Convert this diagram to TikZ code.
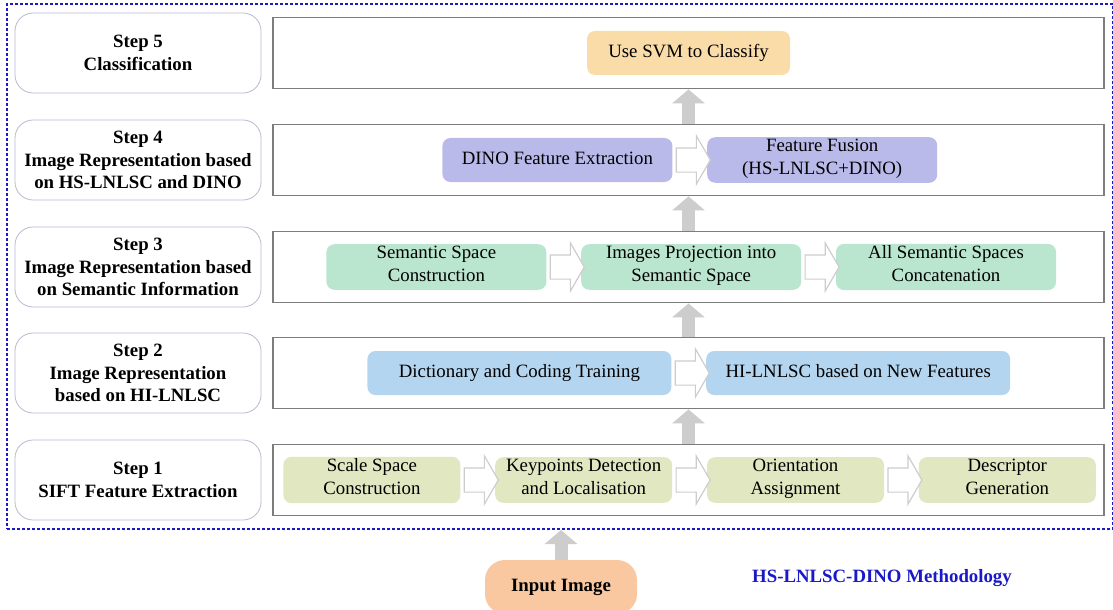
\documentclass[tikz,border=0pt]{standalone}
\usepackage{fontspec}
\setmainfont{Liberation Serif}
\usetikzlibrary{arrows.meta,positioning,shapes.arrows}
\definecolor{frameblue}{RGB}{25,25,200}
\definecolor{svmorange}{RGB}{250,220,168}
\definecolor{dinoviolet}{RGB}{186,186,234}
\definecolor{semgreen}{RGB}{186,229,207}
\definecolor{dictblue}{RGB}{180,213,240}
\definecolor{siftgreen}{RGB}{224,231,193}
\definecolor{inputorange}{RGB}{249,200,160}
\definecolor{stepline}{RGB}{185,185,210}
\definecolor{rowgray}{RGB}{125,125,125}
\definecolor{flowgray}{RGB}{205,205,205}

\begin{document}
\begin{tikzpicture}[
  x=0.5pt,y=-0.5pt,
  font=\fontsize{9.4}{11.2}\selectfont,
  node distance=17pt,
  stepbox/.style={draw=stepline,rounded corners=9pt,fill=white,align=center,minimum width=123pt,minimum height=40pt,font=\fontsize{9.4}{11.2}\selectfont\bfseries},
  row/.style={draw=rowgray,line width=0.9pt,minimum width=415.5pt,minimum height=35.5pt},
  task/.style={rounded corners=4pt,align=center,minimum height=22pt,inner sep=1pt,execute at begin node=\strut,execute at end node=\strut},
  hollow/.style={single arrow,draw=flowgray,fill=white,line width=0.6pt,minimum height=17pt,single arrow head extend=6pt,single arrow tip angle=120,inner sep=0pt},
  up/.style={draw=flowgray,line width=6.5pt,-{Triangle[width=16pt,length=7pt]}}
]
  \useasboundingbox (0,0) rectangle (1113,610);
  \node[draw=frameblue,line width=1pt,dash pattern=on 1.5pt off 1pt,minimum width=552.75pt,minimum height=262.5pt,anchor=north west] (frame) at (6,3) {};

  \node[stepbox] (s5) at (138,53) {Step 5\\Classification};
  \node[stepbox] (s4) at (138,160) {Step 4\\Image Representation based\\on HS-LNLSC and DINO};
  \node[stepbox] (s3) at (138,267) {Step 3\\Image Representation based\\on Semantic Information};
  \node[stepbox] (s2) at (138,373) {Step 2\\Image Representation\\based on HI-LNLSC};
  \node[stepbox] (s1) at (138,480) {Step 1\\SIFT Feature Extraction};

  \node[row] (r5) at (688.5,53) {};
  \node[row] (r4) at (688.5,160) {};
  \node[row] (r3) at (688.5,267) {};
  \node[row] (r2) at (688.5,373) {};
  \node[row] (r1) at (688.5,480) {};

  \node[task,fill=svmorange,minimum width=101.5pt] (svm) at (r5) {Use SVM to Classify};

  \node[task,fill=dinoviolet,minimum width=115pt,anchor=west] (dino) at (442,160) {DINO Feature Extraction};
  \node[task,fill=dinoviolet,minimum width=115pt,right=of dino] (fusion) {Feature Fusion\\(HS-LNLSC+DINO)};

  \node[task,fill=semgreen,minimum width=110pt,anchor=west] (semspace) at (326,267) {Semantic Space\\Construction};
  \node[task,fill=semgreen,minimum width=110pt,right=of semspace] (project) {Images Projection into\\Semantic Space};
  \node[task,fill=semgreen,minimum width=110pt,right=of project] (concat) {All Semantic Spaces\\Concatenation};

  \node[task,fill=dictblue,minimum width=152pt,anchor=west] (dict) at (367,373) {Dictionary and Coding Training};
  \node[task,fill=dictblue,minimum width=152pt,right=of dict] (hilnlsc) {HI-LNLSC based on New Features};

  \node[task,fill=siftgreen,minimum width=88.5pt,anchor=west] (scale) at (283,480) {Scale Space\\Construction};
  \node[task,fill=siftgreen,minimum width=88.5pt,right=of scale] (keypt) {Keypoints Detection\\and Localisation};
  \node[task,fill=siftgreen,minimum width=88.5pt,right=of keypt] (orient) {Orientation\\Assignment};
  \node[task,fill=siftgreen,minimum width=88.5pt,right=of orient] (descr) {Descriptor\\Generation};

  \path (dino.east) -- (fusion.west) node[hollow,midway] {\rule{0pt}{11.5pt}};
  \path (semspace.east) -- (project.west) node[hollow,midway] {\rule{0pt}{11.5pt}};
  \path (project.east) -- (concat.west) node[hollow,midway] {\rule{0pt}{11.5pt}};
  \path (dict.east) -- (hilnlsc.west) node[hollow,midway] {\rule{0pt}{11.5pt}};
  \path (scale.east) -- (keypt.west) node[hollow,midway] {\rule{0pt}{11.5pt}};
  \path (keypt.east) -- (orient.west) node[hollow,midway] {\rule{0pt}{11.5pt}};
  \path (orient.east) -- (descr.west) node[hollow,midway] {\rule{0pt}{11.5pt}};

  \draw[up] (r1.north) -- (r2.south);
  \draw[up] (r2.north) -- (r3.south);
  \draw[up] (r3.north) -- (r4.south);
  \draw[up] (r4.north) -- (r5.south);

  \node[fill=inputorange,rounded corners=10pt,minimum width=76pt,minimum height=27pt,font=\fontsize{9.4}{11.2}\selectfont\bfseries] (input) at (561,587) {Input Image};
  \draw[up] (input.north) -- (input.north |- frame.south);

  \node[text=frameblue,font=\fontsize{9.4}{11.2}\selectfont\bfseries] (title) at (882,578) {HS-LNLSC-DINO Methodology};
\end{tikzpicture}
\end{document}
